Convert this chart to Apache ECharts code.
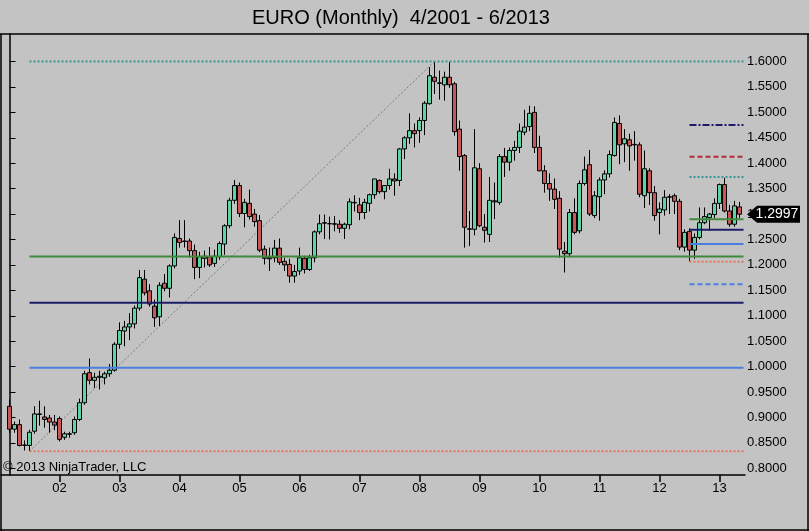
<!DOCTYPE html>
<html><head><meta charset="utf-8">
<script src="https://cdn.jsdelivr.net/npm/echarts@6/dist/echarts.min.js"></script>
<style>html,body{margin:0;padding:0;background:#c3c3c3}#c{width:809px;height:531px}</style>
</head><body><div id="c"></div>
<script>
// ---- data ----
const months = [
 '2001-03','2001-04','2001-05','2001-06','2001-07','2001-08','2001-09','2001-10','2001-11','2001-12',
 '2002-01','2002-02','2002-03','2002-04','2002-05','2002-06','2002-07','2002-08','2002-09','2002-10','2002-11','2002-12',
 '2003-01','2003-02','2003-03','2003-04','2003-05','2003-06','2003-07','2003-08','2003-09','2003-10','2003-11','2003-12',
 '2004-01','2004-02','2004-03','2004-04','2004-05','2004-06','2004-07','2004-08','2004-09','2004-10','2004-11','2004-12',
 '2005-01','2005-02','2005-03','2005-04','2005-05','2005-06','2005-07','2005-08','2005-09','2005-10','2005-11','2005-12',
 '2006-01','2006-02','2006-03','2006-04','2006-05','2006-06','2006-07','2006-08','2006-09','2006-10','2006-11','2006-12',
 '2007-01','2007-02','2007-03','2007-04','2007-05','2007-06','2007-07','2007-08','2007-09','2007-10','2007-11','2007-12',
 '2008-01','2008-02','2008-03','2008-04','2008-05','2008-06','2008-07','2008-08','2008-09','2008-10','2008-11','2008-12',
 '2009-01','2009-02','2009-03','2009-04','2009-05','2009-06','2009-07','2009-08','2009-09','2009-10','2009-11','2009-12',
 '2010-01','2010-02','2010-03','2010-04','2010-05','2010-06','2010-07','2010-08','2010-09','2010-10','2010-11','2010-12',
 '2011-01','2011-02','2011-03','2011-04','2011-05','2011-06','2011-07','2011-08','2011-09','2011-10','2011-11','2011-12',
 '2012-01','2012-02','2012-03','2012-04','2012-05','2012-06','2012-07','2012-08','2012-09','2012-10','2012-11','2012-12',
 '2013-01','2013-02','2013-03','2013-04','2013-05'
];
const open = [
 0.922,0.877,0.886,0.845,0.845,0.873,0.906,0.901,0.899,0.891,
 0.898,0.861,0.867,0.870,0.896,0.929,0.988,0.973,0.979,0.978,0.986,0.993,
 1.044,1.070,1.078,1.084,1.115,1.172,1.149,1.119,1.098,1.164,1.154,1.198,
 1.252,1.246,1.247,1.228,1.195,1.217,1.216,1.203,1.216,1.241,1.277,1.327,
 1.356,1.301,1.321,1.300,1.287,1.231,1.212,1.214,1.233,1.207,1.201,1.178,
 1.188,1.213,1.191,1.214,1.265,1.282,1.281,1.281,1.280,1.272,1.279,1.323,
 1.318,1.303,1.321,1.338,1.366,1.344,1.356,1.369,1.366,1.428,1.450,1.464,
 1.464,1.484,1.517,1.569,1.557,1.554,1.569,1.556,1.467,1.415,1.271,1.270,
 1.389,1.274,1.260,1.326,1.323,1.413,1.402,1.425,1.431,1.461,1.472,1.500,
 1.431,1.385,1.360,1.349,1.331,1.227,1.222,1.303,1.267,1.360,1.397,1.297,
 1.334,1.367,1.379,1.415,1.478,1.438,1.446,1.436,1.436,1.336,1.385,1.342,
 1.303,1.308,1.333,1.336,1.325,1.235,1.266,1.229,1.254,1.283,1.293,1.299,
 1.321,1.358,1.306,1.280,1.314
];
const high = [
 0.935,0.892,0.896,0.855,0.876,0.922,0.933,0.922,0.905,0.905,
 0.902,0.872,0.872,0.902,0.937,0.992,1.016,0.988,0.992,0.990,1.005,1.048,
 1.087,1.090,1.105,1.120,1.190,1.190,1.162,1.132,1.166,1.182,1.201,1.262,
 1.288,1.288,1.252,1.240,1.226,1.228,1.235,1.230,1.246,1.280,1.332,1.367,
 1.362,1.330,1.348,1.310,1.298,1.238,1.234,1.249,1.252,1.214,1.212,1.200,
 1.234,1.218,1.220,1.268,1.299,1.299,1.295,1.296,1.288,1.283,1.331,1.337,
 1.332,1.330,1.340,1.369,1.368,1.356,1.389,1.380,1.430,1.453,1.498,1.478,
 1.490,1.522,1.589,1.599,1.582,1.580,1.599,1.560,1.484,1.418,1.306,1.467,
 1.400,1.300,1.373,1.362,1.418,1.430,1.431,1.444,1.478,1.505,1.513,1.512,
 1.454,1.396,1.380,1.370,1.345,1.245,1.310,1.331,1.366,1.413,1.426,1.345,
 1.372,1.386,1.425,1.490,1.494,1.467,1.458,1.463,1.441,1.425,1.390,1.355,
 1.323,1.347,1.339,1.340,1.330,1.270,1.272,1.262,1.313,1.313,1.302,1.331,
 1.360,1.371,1.318,1.326,1.324
];
const low = [
 0.870,0.870,0.843,0.835,0.834,0.868,0.884,0.880,0.870,0.875,
 0.853,0.856,0.860,0.866,0.893,0.925,0.965,0.958,0.955,0.965,0.980,0.990,
 1.035,1.040,1.052,1.075,1.110,1.140,1.118,1.078,1.080,1.148,1.136,1.193,
 1.234,1.234,1.214,1.172,1.174,1.195,1.196,1.196,1.210,1.220,1.272,1.320,
 1.294,1.274,1.289,1.275,1.225,1.201,1.188,1.205,1.200,1.188,1.165,1.165,
 1.180,1.183,1.188,1.205,1.260,1.251,1.250,1.266,1.263,1.251,1.270,1.305,
 1.288,1.290,1.305,1.330,1.340,1.329,1.348,1.336,1.355,1.408,1.438,1.431,
 1.440,1.455,1.515,1.536,1.525,1.523,1.548,1.454,1.385,1.234,1.237,1.258,
 1.274,1.244,1.245,1.290,1.318,1.373,1.385,1.405,1.420,1.455,1.463,1.420,
 1.384,1.342,1.326,1.310,1.214,1.185,1.215,1.260,1.262,1.356,1.296,1.292,
 1.287,1.339,1.372,1.413,1.398,1.402,1.385,1.405,1.333,1.312,1.318,1.287,
 1.260,1.297,1.300,1.300,1.229,1.226,1.207,1.212,1.250,1.280,1.267,1.292,
 1.310,1.303,1.275,1.275,1.292
];
const close = [
 0.877,0.886,0.845,0.846,0.871,0.907,0.907,0.896,0.891,0.885,
 0.857,0.868,0.868,0.896,0.929,0.986,0.973,0.979,0.981,0.986,0.993,1.044,
 1.071,1.078,1.084,1.115,1.175,1.145,1.123,1.096,1.160,1.154,1.198,1.254,
 1.244,1.247,1.228,1.195,1.216,1.213,1.200,1.217,1.242,1.277,1.327,1.356,
 1.301,1.323,1.295,1.285,1.229,1.213,1.214,1.233,1.205,1.200,1.178,1.187,
 1.214,1.191,1.214,1.265,1.281,1.283,1.281,1.280,1.272,1.280,1.324,1.322,
 1.303,1.323,1.338,1.369,1.344,1.356,1.369,1.365,1.428,1.450,1.464,1.458,
 1.484,1.518,1.572,1.561,1.558,1.569,1.554,1.462,1.413,1.274,1.270,1.391,
 1.277,1.268,1.327,1.324,1.413,1.402,1.425,1.431,1.463,1.471,1.498,1.431,
 1.385,1.360,1.349,1.329,1.231,1.222,1.303,1.264,1.360,1.387,1.300,1.336,
 1.367,1.379,1.417,1.480,1.436,1.448,1.434,1.437,1.339,1.389,1.342,1.297,
 1.310,1.333,1.334,1.325,1.235,1.264,1.229,1.254,1.283,1.295,1.300,1.321,
 1.358,1.306,1.280,1.316,1.2997
];
const yearLabels = ['02','03','04','05','06','07','08','09','10','11','12','13'];
const priceTicks = [0.80,0.85,0.90,0.95,1.00,1.05,1.10,1.15,1.20,1.25,1.30,1.35,1.40,1.45,1.50,1.55,1.60];
// retracement levels drawn from the 2001 low and from the 2012 low
const longLevels = [0.8335, 0.998, 1.1257, 1.2165, 1.600];
const shortLevels = [1.1618, 1.2063, 1.2411, 1.2692, 1.2896, 1.3728, 1.4127, 1.475];
const longStartMonth = '2001-07', swingHighMonth = '2008-04', shortStartMonth = '2012-07';

// ---- chart ----
const FONT = '"Liberation Sans", Arial, sans-serif';
const yearTickIdx = months.map((m, i) => m.endsWith('-01') ? i : -1).filter(i => i >= 0);
const candleData = months.map((m, i) => [i, open[i], close[i], low[i], high[i]]);
const iLong = months.indexOf(longStartMonth), iHigh = months.indexOf(swingHighMonth), iShort = months.indexOf(shortStartMonth);
const X_MIN = -1.7, X_MAX = 147.1, LINE_END = 146.8;

const longStyles = [
  {color:'#e07563', type:[2,2]},
  {color:'#4a7fe0', type:'solid'},
  {color:'#1c1c6a', type:'solid'},
  {color:'#418a3c', type:'solid'},
  {color:'#3a9696', type:[2,2]}
];
const shortStyles = [
  {color:'#4a7fe0', type:[5,3]},
  {color:'#e07563', type:[2,2]},
  {color:'#4a7fe0', type:'solid'},
  {color:'#1c1c6a', type:'solid'},
  {color:'#418a3c', type:'solid'},
  {color:'#3a9696', type:[2,2]},
  {color:'#b02a3a', type:[5,3]},
  {color:'#1c1c6a', type:[7,2,2,2]}
];
function levelSeries(v, from, st) {
  return {type:'line', data:[[from, v],[LINE_END, v]], symbol:'none', silent:true, z:3,
    lineStyle:{color:st.color, type:st.type, width:2}};
}
const series = [
  {type:'candlestick', data:candleData, encode:{x:0, y:[1,2,3,4]}, barWidth:3.8, z:2,
   itemStyle:{color:'#5fd3a4', color0:'#c65858', borderColor:'#000', borderColor0:'#000', borderColorDoji:'#000', borderWidth:1}},
  {type:'line', data:[[iLong, longLevels[0]],[iHigh, longLevels[longLevels.length-1]]], symbol:'none', silent:true, z:1,
   lineStyle:{color:'#7a7a7a', width:1, type:[2,2]}}
];
longLevels.forEach((v, k) => series.push(levelSeries(v, iLong, longStyles[k])));
shortLevels.forEach((v, k) => series.push(levelSeries(v, iShort, shortStyles[k])));

const chart = echarts.init(document.getElementById('c'), null, {renderer:'canvas'});
chart.setOption({
  backgroundColor:'#c3c3c3',
  animation:false,
  title:{text:'EURO (Monthly)  4/2001 - 6/2013', left:247, top:3,
    textStyle:{fontFamily:FONT, fontSize:20, fontWeight:'normal', color:'#000'}},
  grid:{left:1, top:34, width:744, height:441},
  xAxis:{type:'value', min:X_MIN, max:X_MAX, splitLine:{show:false},
    axisLine:{lineStyle:{color:'#000', width:1.5}},
    axisTick:{customValues:yearTickIdx, length:7, lineStyle:{color:'#000', width:1.5}},
    axisLabel:{customValues:yearTickIdx, formatter:(v)=>yearLabels[yearTickIdx.indexOf(Math.round(v))],
      fontFamily:FONT, fontSize:13, color:'#000', margin:7}},
  yAxis:{type:'value', position:'right', min:0.7869, max:1.654, splitLine:{show:false},
    axisLine:{show:true, lineStyle:{color:'#000', width:1.5}},
    axisTick:{show:true, customValues:priceTicks, length:6, lineStyle:{color:'#000', width:1}},
    axisLabel:{customValues:priceTicks, formatter:(v)=>v.toFixed(4), fontFamily:FONT, fontSize:13, color:'#000', margin:2}},
  series:series
});

const last = close[close.length-1];
const py = chart.convertToPixel({yAxisIndex:0}, last);
chart.setOption({graphic:[
  {type:'line', z:100, shape:{x1:0,y1:34,x2:809,y2:34}, style:{stroke:'#000', lineWidth:1.5}, silent:true},
  {type:'line', z:100, shape:{x1:1,y1:34,x2:1,y2:531}, style:{stroke:'#000', lineWidth:1.5}, silent:true},
  {type:'line', z:100, shape:{x1:808,y1:34,x2:808,y2:531}, style:{stroke:'#000', lineWidth:1.5}, silent:true},
  {type:'line', z:100, shape:{x1:0,y1:530,x2:809,y2:530}, style:{stroke:'#000', lineWidth:1.5}, silent:true},
  {type:'text', z:100, left:3, top:461, style:{text:'\u00a9 2013 NinjaTrader, LLC', font:'13px "Liberation Sans", Arial', fill:'#000'}, silent:true},
  {type:'rect', z:100, shape:{x:752, y:py-9, width:50, height:18}, style:{fill:'#c3c3c3'}, silent:true},
  {type:'polygon', z:101, shape:{points:[[747,py],[757,py-8.5],[800,py-8.5],[800,py+8.5],[757,py+8.5]]}, style:{fill:'#000'}, silent:true},
  {type:'text', z:102, x:777, y:py, style:{text:last.toFixed(4), font:'14px "Liberation Sans", Arial', fill:'#fff', align:'center', verticalAlign:'middle'}, silent:true}
]});
</script></body></html>
